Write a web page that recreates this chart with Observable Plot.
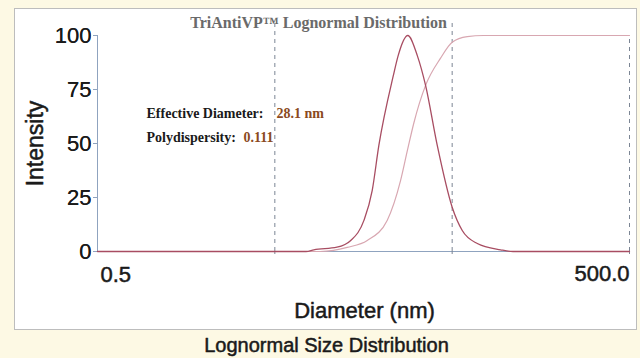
<!DOCTYPE html>
<html><head><meta charset="utf-8">
<script src="https://cdn.jsdelivr.net/npm/d3@7"></script>
<script src="https://cdn.jsdelivr.net/npm/@observablehq/plot@0.6"></script>
<style>
html,body{margin:0;padding:0;background:#fdf9e4;width:640px;height:358px;overflow:hidden;}
#panel{position:absolute;left:14px;top:8px;width:623px;height:322px;border:1px solid #bdbdbd;background:#fff;box-sizing:border-box;}
#chart{position:absolute;left:0;top:0;}
</style></head><body><div id="panel"></div><div id="chart"></div>
<script>
// Intensity distribution (nm, %)
const intensityDiameter = [0.5, 7.5, 8.3, 11.2, 13.4, 15.9, 17.7, 19.3, 23.3, 24.8, 28.1, 31.8, 35.4, 41.2, 50.0, 57.0, 69.3, 93.7, 110, 500];
const intensityValue    = [0,   0,   0.8, 2.0,  5.1,  14.4, 28.2, 49.1, 81.5, 90.7, 100,  90.7, 76.9, 49.1, 20.5, 9.7,  3.7,  0.8,  0,   0];
// Cumulative distribution (nm, %)
const cumulativeDiameter = [0.5, 9.0, 10.7, 12.8, 16.6, 21.5, 25.6, 28.0, 30.4, 35.4, 43.0, 50.0, 60.8, 75, 500];
const cumulativeValue    = [0,   0,   0.5,  1.9,  5.1,  14.4, 32.9, 47.0, 59.5, 76.9, 89.5, 96.9, 99.5, 100, 100];
// Axes
const xTickLabels = [0.5, 500];
const xGrid = [5, 50, 500];
const yTicks = [0, 25, 50, 75, 100];
// Text
const title = "TriAntiVP™ Lognormal Distribution";
const xLabel = "Diameter (nm)";
const yLabel = "Intensity";
const caption = "Lognormal Size Distribution";
const statLabels = ["Effective Diameter:", "Polydispersity:"];
const statValues = ["28.1 nm", "0.111"];

const intensity = intensityDiameter.map((d, i) => ({d, v: intensityValue[i]}));
const cumulative = cumulativeDiameter.map((d, i) => ({d, v: cumulativeValue[i]}));

const axisColor = "#8fa3bf";
const gridColor = "#7b8594";
const ink = "#1a1a1a";
const serif = "'Liberation Serif', 'Times New Roman', serif";
const sans = "'Liberation Sans', Arial, sans-serif";
const fmt = d3.format(".1f");
const heavy = {stroke: ink, strokeWidth: 0.5};

const statMarks = statLabels.flatMap((label, i) => [
  Plot.text([label], {frameAnchor: "top-left", textAnchor: "start", lineAnchor: "middle", dx: 49, dy: 78 + i * 24, fontFamily: serif, fontWeight: "bold", fontSize: 14, fill: ink}),
  Plot.text([statValues[i]], {frameAnchor: "top-left", textAnchor: "start", lineAnchor: "middle", dx: i === 0 ? 179 : 146, dy: 78 + i * 24, fontFamily: serif, fontWeight: "bold", fontSize: 14, fill: "#8b4a1e"})
]);

const chart = Plot.plot({
  width: 640, height: 358,
  marginLeft: 97, marginRight: 11, marginTop: 35, marginBottom: 107,
  style: {background: "transparent", fontFamily: sans, color: ink, overflow: "visible"},
  x: {type: "log", domain: [0.5, 500]},
  y: {domain: [0, 100]},
  marks: [
    Plot.ruleX(xGrid.slice(0, 2), {y1: 0, y2: 106, stroke: gridColor, strokeDasharray: "4,4"}),
    Plot.ruleX(xGrid.slice(2), {y1: 0, y2: 100, stroke: gridColor, strokeDasharray: "4,4"}),
    Plot.ruleY([0], {stroke: axisColor}),
    Plot.ruleX([0.5], {y1: 0, y2: 100, stroke: axisColor}),
    Plot.axisY(yTicks, {tickSize: 4, tickPadding: 2, fontSize: 22, stroke: axisColor, fill: ink, label: null}),
    Plot.axisY(yTicks, {tickSize: 0, tickPadding: 6, fontSize: 22, stroke: ink, strokeWidth: 0.5, fill: ink, label: null}),
    Plot.axisX(xGrid, {tickSize: 3, stroke: gridColor, tickFormat: () => "", label: null}),
    Plot.text(xTickLabels.slice(0, 1), {x: d => d, text: fmt, frameAnchor: "bottom", textAnchor: "start", lineAnchor: "middle", dx: 3, dy: 23, fontSize: 22, fill: ink, ...heavy}),
    Plot.text(xTickLabels.slice(1), {x: d => d, text: fmt, frameAnchor: "bottom", textAnchor: "end", lineAnchor: "middle", dx: 0, dy: 22, fontSize: 22, fill: ink, ...heavy}),
    Plot.line(cumulative, {x: "d", y: "v", stroke: "#d8a7b1", strokeWidth: 1.2, curve: "monotone-x"}),
    Plot.line(intensity, {x: "d", y: "v", stroke: "#a84d62", strokeWidth: 1.3, curve: "monotone-x"}),
    Plot.text([title], {frameAnchor: "top", lineAnchor: "middle", dx: -45, dy: -13, fontFamily: serif, fontWeight: "bold", fontSize: 16, fill: "#6a6a6a"}),
    Plot.text([yLabel], {frameAnchor: "left", textAnchor: "middle", rotate: -90, dx: -62, fontSize: 23, fill: ink, ...heavy}),
    Plot.text([xLabel], {frameAnchor: "bottom", lineAnchor: "middle", dy: 59, dx: 1, fontSize: 22, fill: ink, ...heavy}),
    Plot.text([caption], {frameAnchor: "bottom", lineAnchor: "middle", dx: -37, dy: 94, fontSize: 20, fill: ink, ...heavy}),
    ...statMarks
  ]
});
document.getElementById("chart").appendChild(chart);
</script></body></html>
